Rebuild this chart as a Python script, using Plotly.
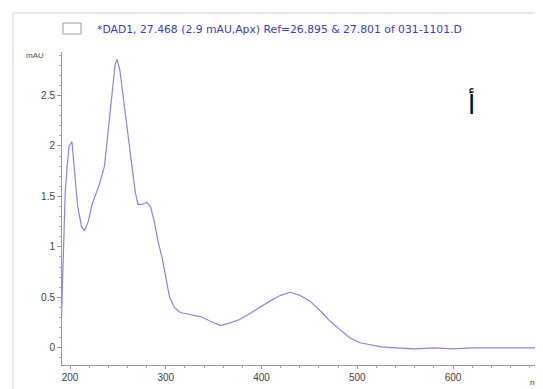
import plotly.graph_objects as go

wavelength = [191, 193, 195, 197, 199, 202, 205, 208, 212, 215, 219, 223, 228, 231,
              236, 240, 244, 247, 249, 252, 256, 260, 264, 268, 271, 275, 280, 284,
              288, 292, 296, 300, 304, 309, 315, 325, 336, 345, 352, 357, 365, 377,
              388, 398, 410, 420, 430, 440, 451, 462, 472, 482, 492, 503, 513, 525,
              540, 560, 580, 600, 620, 640, 660, 680, 700]
absorbance = [0.28, 0.9, 1.55, 1.8, 2.0, 2.04, 1.75, 1.4, 1.2, 1.16, 1.25, 1.42, 1.55, 1.63,
              1.8, 2.15, 2.55, 2.8, 2.86, 2.75, 2.45, 2.15, 1.9, 1.55, 1.42, 1.42, 1.44, 1.4,
              1.25, 1.05, 0.9, 0.68, 0.5, 0.4, 0.35, 0.33, 0.31, 0.27, 0.24, 0.22, 0.24, 0.28,
              0.34, 0.4, 0.47, 0.52, 0.55, 0.52, 0.46, 0.36, 0.26, 0.18, 0.1, 0.05, 0.03, 0.01,
              0.0, -0.01, 0.0, -0.01, 0.0, 0.0, 0.0, 0.0, 0.0]

legend_text = "*DAD1, 27.468 (2.9 mAU,Apx) Ref=26.895 & 27.801 of 031-1101.D"
y_unit = "mAU"
x_unit = "nm"
panel_letter = "أ"

OFF = 8  # page body margin
W, H = 543 - OFF, 389 - OFF
L, R, T, B = 62 - OFF, 0, 52 - OFF, 389 - 365
pw = W - L - R
ph = H - T - B

def px(x):
    return (x - OFF - L) / pw

def py(y):
    return 1 - (y - OFF - T) / ph

fig = go.Figure()
fig.add_trace(go.Scatter(x=wavelength, y=absorbance, mode="lines",
                         line=dict(color="rgb(135,135,225)", width=1.2),
                         showlegend=False, hoverinfo="skip"))

fig.update_layout(
    width=W, height=H,
    margin=dict(l=L, r=R, t=T, b=B),
    paper_bgcolor="white", plot_bgcolor="white",
    font=dict(family="Liberation Sans, Arial, sans-serif", size=10, color="#333"),
    xaxis=dict(range=[191.6, 694], tickvals=[200, 300, 400, 500, 600],
               showgrid=False, zeroline=False, showline=True, linecolor="#999",
               linewidth=1, ticks="outside", ticklen=3, tickcolor="#999",
               minor=dict(dtick=20, tick0=200, ticks="outside", ticklen=2, tickcolor="#aaa"),
               tickfont=dict(size=10, color="#444")),
    yaxis=dict(range=[-0.17, 2.93], tickvals=[0, 0.5, 1, 1.5, 2, 2.5],
               ticktext=["0", "0.5", "1", "1.5", "2", "2.5"],
               showgrid=False, zeroline=False, showline=True, linecolor="#999",
               linewidth=1, ticks="outside", ticklen=4, tickcolor="#999",
               minor=dict(dtick=0.1, tick0=0, ticks="outside", ticklen=2, tickcolor="#aaa"),
               tickfont=dict(size=10, color="#444")),
)

# outer frame
fig.add_shape(type="line", xref="paper", yref="paper",
              x0=px(13), x1=px(560), y0=py(13), y1=py(13),
              line=dict(color="#d0d0d0", width=1))
fig.add_shape(type="line", xref="paper", yref="paper",
              x0=px(13), x1=px(13), y0=py(13), y1=py(400),
              line=dict(color="#d0d0d0", width=1))
# legend swatch box
fig.add_shape(type="rect", xref="paper", yref="paper",
              x0=px(63), x1=px(81), y0=py(34), y1=py(23),
              line=dict(color="#9a9ab0", width=1), fillcolor="white")

fig.add_annotation(x=px(95), y=py(29), xref="paper", yref="paper",
                   text=legend_text, showarrow=False, xanchor="left", yanchor="middle",
                   font=dict(size=10.8, color="#3a3acc", family="DejaVu Sans"))
fig.add_annotation(x=px(46), y=py(56), xref="paper", yref="paper",
                   text=y_unit, showarrow=False, xanchor="right", yanchor="middle",
                   font=dict(size=8, color="#555"))
fig.add_annotation(x=px(543), y=py(382), xref="paper", yref="paper",
                   text=x_unit, showarrow=False, xanchor="right", yanchor="middle",
                   font=dict(size=8, color="#444"))
fig.add_annotation(x=px(471), y=py(103), xref="paper", yref="paper",
                   text=panel_letter, showarrow=False, xanchor="center", yanchor="middle",
                   font=dict(size=26, color="black", family="DejaVu Sans"))

fig.write_html("out.html")
